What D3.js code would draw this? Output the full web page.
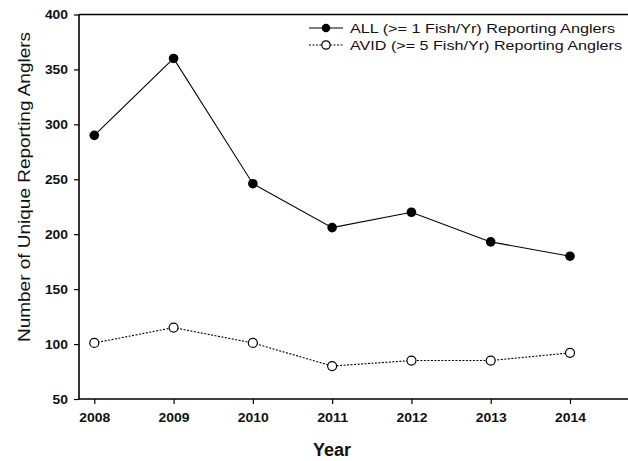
<!DOCTYPE html>
<html>
<head>
<meta charset="utf-8">
<script src="https://cdn.jsdelivr.net/npm/d3@7"></script>
<style>
body{margin:0;background:#fff;}
svg{display:block;font-family:"Liberation Sans",Arial,sans-serif;}
</style>
</head>
<body>
<svg id="chart" width="628" height="461"></svg>
<script>
const years = [2008, 2009, 2010, 2011, 2012, 2013, 2014];
const allAnglers = [290, 360, 246, 206, 220, 193, 180];
const avidAnglers = [101, 115, 101, 80, 85, 85, 92];
const yTicks = [50, 100, 150, 200, 250, 300, 350, 400];
const seriesNames = ["ALL (>= 1 Fish/Yr) Reporting Anglers", "AVID (>= 5 Fish/Yr) Reporting Anglers"];

(function () {
const svg = d3.select("#chart");
const mLeft = 79, mRight = 628, mTop = 14.5, mBottom = 399;

const x = d3.scaleLinear().domain([2008, 2014]).range([94.3, 570]);
const y = d3.scaleLinear().domain([50, 400]).range([mBottom, mTop]);

// frame
svg.append("line").attr("x1", mLeft).attr("x2", mRight).attr("y1", mTop).attr("y2", mTop)
  .attr("stroke", "#000").attr("stroke-width", 1.6);

// y axis
const yAxis = svg.append("g").attr("transform", `translate(${mLeft},0)`)
  .call(d3.axisLeft(y).tickValues(yTicks).tickSize(5).tickPadding(6).tickFormat(d3.format("d")));
yAxis.select(".domain").attr("stroke-width", 1.6).attr("d", `M0,${mTop}V${mBottom}`);
yAxis.selectAll(".tick line").attr("stroke-width", 1.2);
yAxis.selectAll(".tick text").attr("font-size", 13).attr("font-weight", "bold").attr("fill", "#111")
  .attr("font-family", "Liberation Sans, Arial, sans-serif")
  .attr("textLength", d => String(d).length * 7.7).attr("lengthAdjust", "spacingAndGlyphs");

// x axis
const xAxis = svg.append("g").attr("transform", `translate(0,${mBottom})`)
  .call(d3.axisBottom(x).tickValues(years).tickSize(5).tickPadding(9).tickFormat(d3.format("d")));
xAxis.select(".domain").attr("stroke-width", 1.6).attr("d", `M${mLeft},0H${mRight}`);
xAxis.selectAll(".tick line").attr("stroke-width", 1.2);
xAxis.selectAll(".tick text").attr("font-size", 13).attr("font-weight", "bold").attr("fill", "#111")
  .attr("font-family", "Liberation Sans, Arial, sans-serif")
  .attr("textLength", 31).attr("lengthAdjust", "spacingAndGlyphs");

// axis titles
svg.append("text").attr("x", 332).attr("y", 456).attr("text-anchor", "middle")
  .attr("font-size", 18).attr("font-weight", "bold").attr("fill", "#111").text("Year");
svg.append("text").attr("transform", "translate(30,187) rotate(-90)").attr("text-anchor", "middle")
  .attr("font-size", 17).attr("fill", "#111")
  .attr("textLength", 310).attr("lengthAdjust", "spacingAndGlyphs")
  .text("Number of Unique Reporting Anglers");

// lines
const line = d3.line().x((d, i) => x(years[i])).y(d => y(d));
svg.append("path").datum(allAnglers).attr("d", line).attr("fill", "none")
  .attr("stroke", "#000").attr("stroke-width", 1.1);
svg.append("path").datum(avidAnglers).attr("d", line).attr("fill", "none")
  .attr("stroke", "#000").attr("stroke-width", 1.1).attr("stroke-dasharray", "2,1.5");

svg.append("g").selectAll("circle").data(allAnglers).join("circle")
  .attr("cx", (d, i) => x(years[i])).attr("cy", d => y(d)).attr("r", 4.8).attr("fill", "#000");
svg.append("g").selectAll("circle").data(avidAnglers).join("circle")
  .attr("cx", (d, i) => x(years[i])).attr("cy", d => y(d)).attr("r", 4.5)
  .attr("fill", "#fff").attr("stroke", "#000").attr("stroke-width", 1.2);

// legend
const legY = [28, 45];
const leg = svg.append("g");
leg.append("line").attr("x1", 309).attr("x2", 343).attr("y1", legY[0]).attr("y2", legY[0])
  .attr("stroke", "#000").attr("stroke-width", 1.1);
leg.append("circle").attr("cx", 326).attr("cy", legY[0]).attr("r", 4.3).attr("fill", "#000");
leg.append("line").attr("x1", 309).attr("x2", 343).attr("y1", legY[1]).attr("y2", legY[1])
  .attr("stroke", "#000").attr("stroke-width", 1.1).attr("stroke-dasharray", "2,1.5");
leg.append("circle").attr("cx", 326).attr("cy", legY[1]).attr("r", 4.2)
  .attr("fill", "#fff").attr("stroke", "#000").attr("stroke-width", 1.2);
leg.selectAll("text").data(seriesNames).join("text")
  .attr("x", 350).attr("y", (d, i) => legY[i] + 5)
  .attr("font-size", 13.5).attr("fill", "#111")
  .attr("textLength", (d, i) => i === 0 ? 265 : 272).attr("lengthAdjust", "spacingAndGlyphs")
  .text(d => d);
})();
</script>
</body>
</html>
